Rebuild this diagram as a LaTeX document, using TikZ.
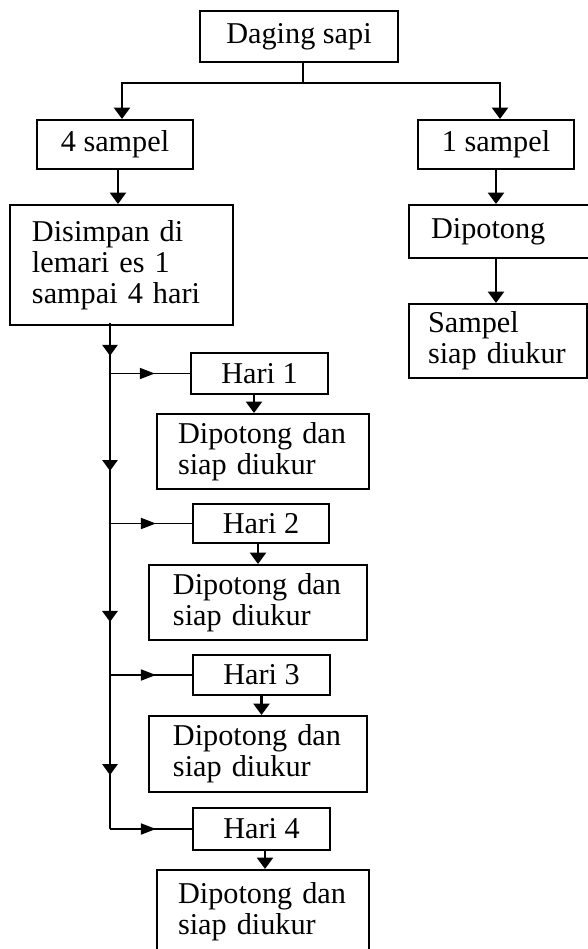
\documentclass[tikz,border=0pt]{standalone}
\usepackage{fontspec}
\setmainfont{Liberation Serif}
\usetikzlibrary{positioning,arrows.meta,decorations.markings}

\begin{document}
\begin{tikzpicture}[
  x=0.4pt, y=-0.4pt,
  font=\fontsize{12.1}{12.4}\selectfont,
  stepbox/.style = {draw, line width=0.8pt, anchor=north west, inner sep=0pt, align=center},
  notebox/.style = {stepbox, align=left, inner xsep=#1},
  link/.style = {line width=1.1pt},
  flow/.style = {-{Triangle[length=4.6pt, width=6.4pt]}, line width=1.1pt},
  trunk/.style = {line width=1.1pt, postaction={decorate},
                  decoration={markings, mark=at position 0.65 with {\arrow{Triangle[length=4.4pt, width=6pt]}}}},
  branch/.style = {line width=0.7pt, postaction={decorate},
                   decoration={markings, mark=at position 0.56 with {\arrow{Triangle[length=6pt, width=4.4pt]}}}},
]
\useasboundingbox (0,0) rectangle (588,949);

% ---------- start and the two sample groups ----------
\node[stepbox, minimum width=79.2pt, minimum height=20.4pt] (meat) at (199,10) {Daging sapi};
\node[stepbox, minimum width=62.4pt, minimum height=19.6pt] (four) at (36,119) {4 sampel};
\node[stepbox, minimum width=62.4pt, minimum height=19.6pt] (one) at (417,119) {1 sampel};

% ---------- right branch: measured at once ----------
\node[notebox=8.8pt, text width=62.4pt, minimum height=21.2pt] (cutR) at (408,204) {Dipotong};
\node[notebox=7.6pt, text width=56pt, minimum height=29.6pt] (ready) at (408,303) {Sampel\\ siap diukur};

% ---------- left branch: storage days ----------
\node[notebox=8.8pt, text width=71.6pt, minimum height=48pt] (store) at (9,204) {Disimpan di\\ lemari es 1\\ sampai 4 hari};

\node[stepbox, minimum width=54.8pt, minimum height=16.4pt] (day1) at (190,352) {Hari 1};
\node[notebox=8.4pt, text width=68pt, minimum height=30pt] (cut1) at (156,413) {Dipotong dan\\ siap diukur};
\node[stepbox, minimum width=54.4pt, minimum height=15.6pt] (day2) at (192,503) {Hari 2};
\node[notebox=9.6pt, text width=68pt, minimum height=30pt] (cut2) at (148,564) {Dipotong dan\\ siap diukur};
\node[stepbox, minimum width=54.8pt, minimum height=16pt] (day3) at (192,654) {Hari 3};
\node[notebox=9.6pt, text width=68pt, minimum height=30.4pt] (cut3) at (148,715) {Dipotong dan\\ siap diukur};
\node[stepbox, minimum width=54.8pt, minimum height=16.8pt] (day4) at (192,807) {Hari 4};
\node[notebox=8.4pt, text width=68pt, minimum height=33.6pt] (cut4) at (156,869) {Dipotong dan\\ siap diukur};

% ---------- flows ----------
\coordinate (split) at (303,83);
\coordinate (trunk) at (110,323);

\draw[link] (split |- meat.south) -- (split);
\draw[flow] (split) -| ([xshift=2.8pt]four.north);
\draw[flow] (split) -| ([xshift=1.6pt]one.north);

\draw[flow] ([xshift=1.2pt]four.south) -- ([xshift=1.2pt]four.south |- store.north);
\draw[flow] (one.south) -- (one.south |- cutR.north);
\draw[flow] (one.south |- cutR.south) -- (one.south |- ready.north);

% trunk out of the fridge, one side branch per day
\draw[trunk] (trunk) -- (trunk |- day1.west);
\draw[trunk] (trunk |- day1.west) -- (trunk |- day2.west);
\draw[trunk] (trunk |- day2.west) -- (trunk |- day3.west);
\draw[trunk] (trunk |- day3.west) -- (trunk |- day4.west);

\draw[branch] (trunk |- day1.west) -- (day1.west);
\draw[branch] (trunk |- day2.west) -- (day2.west);
\draw[branch] (trunk |- day3.west) -- (day3.west);
\draw[branch] (trunk |- day4.west) -- (day4.west);

\draw[flow] ([xshift=-2.2pt]day1.south) -- ([xshift=-2.2pt]day1.south |- cut1.north);
\draw[flow] ([xshift=-1.2pt]day2.south) -- ([xshift=-1.2pt]day2.south |- cut2.north);
\draw[flow] (day3.south) -- (day3.south |- cut3.north);
\draw[flow] ([xshift=1.4pt]day4.south) -- ([xshift=1.4pt]day4.south |- cut4.north);

\end{tikzpicture}
\end{document}
